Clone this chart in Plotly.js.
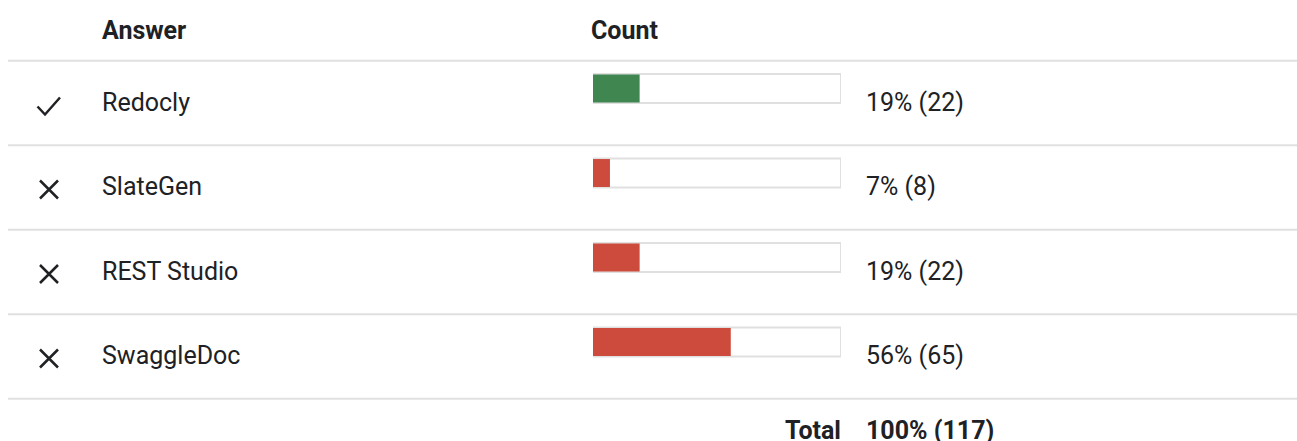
<!DOCTYPE html>
<html>
<head>
<meta charset="utf-8">
<script src="https://cdn.plot.ly/plotly-3.0.1.min.js"></script>
<style>
html,body{margin:0;padding:0;background:#fff;}
#chart{width:1297px;height:441px;}
</style>
</head>
<body>
<div id="chart"></div>
<script>
// ---- data ----
const answers = ["Redocly", "SlateGen", "REST Studio", "SwaggleDoc"];
const counts = [22, 8, 22, 65];
const correct = [true, false, false, false];
const headerAnswer = "Answer";
const headerCount = "Count";
const totalLabel = "Total";

// ---- derived ----
const total = counts.reduce((a, b) => a + b, 0);
const pct = counts.map(c => c / total * 100);
const rows = answers.map((_, i) => i);
const W = 1297;
const FONT = "Roboto, 'Noto Sans', Arial, sans-serif";
const TXT = "#202124";
const GREEN = "#3f8650";
const RED = "#cd4b3d";
const GRID = "#e0e0e0";

const barWidth = 0.343;
const barOffset = -0.343;

// icon glyph paths (pixel units, relative to the icon anchor, y up)
const CHECK_PATH = "M-11,-3.5 L-3.5,-11.5 L11.5,5.5";
const CROSS_PATH = "M-9,7 L9,-11 M-9,-11 L9,7";

const traces = [
  {
    type: "bar", orientation: "h",
    y: rows, x: rows.map(() => 100),
    width: rows.map(() => barWidth), offset: rows.map(() => barOffset),
    marker: {color: "#ffffff", line: {color: GRID, width: 2}},
    hoverinfo: "skip", showlegend: false
  },
  {
    type: "bar", orientation: "h",
    y: rows, x: pct,
    width: rows.map(() => barWidth - 0.012), offset: rows.map(() => barOffset + 0.006),
    marker: {color: correct.map(c => c ? GREEN : RED), line: {width: 0}},
    hoverinfo: "skip", showlegend: false
  }
];

const annotations = [];
const shapes = [];
const fnt = (bold) => ({family: FONT, size: 25, color: TXT, weight: bold ? "bold" : "normal"});

// header
annotations.push({xref: "paper", yref: "y", x: 100 / W, y: -0.864, text: headerAnswer, showarrow: false, xanchor: "left", yanchor: "middle", font: fnt(true)});
annotations.push({xref: "paper", yref: "y", x: 589 / W, y: -0.864, text: headerCount, showarrow: false, xanchor: "left", yanchor: "middle", font: fnt(true)});

// separators
shapes.push({type: "line", xref: "paper", yref: "y", x0: 8 / W, x1: 1, y0: -0.5, y1: -0.5, line: {color: GRID, width: 2}});
rows.forEach(i => {
  shapes.push({type: "line", xref: "paper", yref: "y", x0: 8 / W, x1: 1, y0: i + 0.5, y1: i + 0.5, line: {color: GRID, width: 2}});
  annotations.push({xref: "paper", yref: "y", x: 100 / W, y: i - 0.01, text: answers[i], showarrow: false, xanchor: "left", yanchor: "middle", font: fnt(false)});
  annotations.push({xref: "paper", yref: "y", x: 864 / W, y: i - 0.01, text: Math.round(pct[i]) + "% (" + counts[i] + ")", showarrow: false, xanchor: "left", yanchor: "middle", font: fnt(false)});
  shapes.push({
    type: "path", xref: "paper", yref: "y",
    xsizemode: "pixel", ysizemode: "pixel",
    xanchor: (correct[i] ? 48.5 : 49) / W, yanchor: i,
    path: correct[i] ? CHECK_PATH : CROSS_PATH,
    line: {color: TXT, width: 2.5}, fillcolor: "rgba(0,0,0,0)"
  });
});

// total
annotations.push({xref: "paper", yref: "y", x: 843 / W, y: 3.87, text: totalLabel, showarrow: false, xanchor: "right", yanchor: "middle", font: fnt(true)});
annotations.push({xref: "paper", yref: "y", x: 864 / W, y: 3.87, text: "100% (" + total + ")", showarrow: false, xanchor: "left", yanchor: "middle", font: fnt(true)});

const layout = {
  width: 1297, height: 441,
  margin: {l: 0, r: 0, t: 0, b: 0},
  paper_bgcolor: "#fff", plot_bgcolor: "#fff",
  barmode: "overlay",
  showlegend: false,
  hovermode: false,
  xaxis: {domain: [593 / W, 841 / W], range: [0, 100], fixedrange: true, showgrid: false, zeroline: false, showticklabels: false, showline: false},
  yaxis: {range: [4.0, -1.219], autorange: false, fixedrange: true, showgrid: false, zeroline: false, showticklabels: false, showline: false},
  annotations: annotations,
  shapes: shapes,
  font: {family: FONT}
};

Plotly.newPlot("chart", traces, layout, {displayModeBar: false, staticPlot: true});
</script>
</body>
</html>
